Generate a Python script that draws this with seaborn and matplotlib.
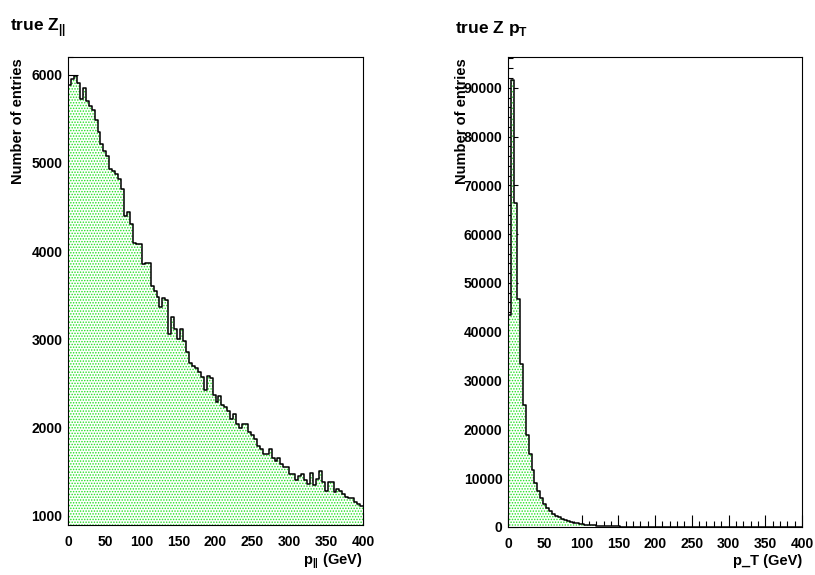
import numpy as np
import pandas as pd
import matplotlib
matplotlib.use("Agg")
import matplotlib.pyplot as plt
from matplotlib.ticker import MultipleLocator
import seaborn as sns

# ---------------- data ----------------
bin_width = 4
x_min, x_max = 0, 400

pl_counts = [5880, 5950, 5990, 5900, 5725, 5850, 5700, 5650, 5600, 5490,
             5350, 5215, 5140, 5080, 4930, 4910, 4870, 4820, 4705, 4400,
             4440, 4310, 4090, 4085, 4085, 3855, 3860, 3860, 3600, 3550,
             3475, 3370, 3470, 3445, 3060, 3255, 3115, 3005, 3115, 2985,
             2860, 2730, 2700, 2680, 2625, 2570, 2420, 2580, 2560, 2370,
             2285, 2355, 2260, 2230, 2190, 2100, 2155, 2040, 2000, 2040,
             2040, 1945, 1910, 1870, 1795, 1755, 1700, 1700, 1755, 1660,
             1625, 1655, 1585, 1550, 1550, 1475, 1470, 1400, 1455, 1475,
             1400, 1360, 1490, 1350, 1415, 1510, 1380, 1285, 1380, 1380,
             1265, 1305, 1285, 1245, 1210, 1205, 1200, 1160, 1135, 1110]

pt_counts = [43500, 91600, 66400, 46700, 33400, 24900, 18800, 14900, 11600, 9100,
             7400, 5900, 4800, 3900, 3250, 2750, 2350, 2000, 1700, 1450,
             1230, 1050, 900, 770, 660, 570, 490, 420, 365, 315,
             275, 240, 210, 184, 160, 140, 123, 108, 95, 84,
             74, 65, 57, 50, 44, 39, 35, 31, 27, 24,
             21, 19, 17, 15, 13, 12, 11, 10, 9, 8,
             7, 6, 6, 5, 5, 4, 4, 3, 3, 3,
             3, 2, 2, 2, 2, 2, 1, 1, 1, 1,
             1, 1, 1, 1, 1, 1, 0, 0, 0, 0,
             1, 0, 0, 0, 0, 0, 0, 0, 0, 0]

titles = ["true Z$_{||}$", r"true Z p$_\mathbf{T}$"]
xlabels = ["p$_{||}$ (GeV)", "p_T (GeV)"]
ylabel = "Number of entries"

centers = np.arange(x_min, x_max, bin_width) + bin_width / 2

# ---------------- style ----------------
sns.set_theme(style="ticks")
plt.rcParams["font.family"] = ["Liberation Sans", "DejaVu Sans"]
plt.rcParams["font.weight"] = "bold"
plt.rcParams["text.color"] = "black"
plt.rcParams["axes.labelcolor"] = "black"
plt.rcParams["xtick.color"] = "black"
plt.rcParams["ytick.color"] = "black"
plt.rcParams["mathtext.fontset"] = "custom"
plt.rcParams["mathtext.rm"] = "Liberation Sans"
plt.rcParams["mathtext.bf"] = "Liberation Sans:bold"
plt.rcParams["hatch.linewidth"] = 0.7

W, H = 815, 575
fig = plt.figure(figsize=(W / 100, H / 100), dpi=100)
fig.patch.set_facecolor("white")

ax1 = fig.add_axes([68 / W, 1 - 525 / H, 295 / W, 468 / H])
ax2 = fig.add_axes([508 / W, 1 - 527 / H, 294 / W, 470 / H])

green = "#22e022"


def draw(ax, counts):
    df = pd.DataFrame({"x": centers, "w": counts})
    n0 = len(ax.collections)
    sns.histplot(data=df, x="x", weights="w", binwidth=bin_width,
                 binrange=(x_min, x_max), element="step",
                 fill=True, ax=ax, alpha=1, linewidth=0)
    for coll in ax.collections[n0:]:
        coll.set_facecolor("white")
        coll.set_edgecolor(green)
        coll.set_hatch("......")
        coll.set_linewidth(0)
    sns.histplot(data=df, x="x", weights="w", binwidth=bin_width,
                 binrange=(x_min, x_max), element="step",
                 fill=False, ax=ax, color="black", linewidth=1.1)


draw(ax1, pl_counts)
draw(ax2, pt_counts)

ax1.set_ylim(895, 6200)
ax2.set_ylim(0, 96300)

for ax, ymaj, ymin in [(ax1, 1000, 200), (ax2, 10000, 2000)]:
    ax.set_facecolor("white")
    ax.set_xlim(x_min, x_max)
    ax.xaxis.set_major_locator(MultipleLocator(50))
    ax.xaxis.set_minor_locator(MultipleLocator(10))
    ax.yaxis.set_major_locator(MultipleLocator(ymaj))
    ax.yaxis.set_minor_locator(MultipleLocator(ymin))
    ax.tick_params(axis="both", which="both", direction="in", top=False,
                   right=False, colors="black", width=0.8, labelsize=10)
    ax.tick_params(axis="x", which="major", length=9, pad=7)
    ax.tick_params(axis="x", which="minor", length=4.5)
    ax.tick_params(axis="y", which="major", length=7, pad=4)
    ax.tick_params(axis="y", which="minor", length=3.5)
    for lab in ax.get_xticklabels() + ax.get_yticklabels():
        lab.set_fontweight("bold")
        lab.set_color("black")
    for sp in ax.spines.values():
        sp.set_visible(True)
        sp.set_color("black")
        sp.set_linewidth(0.8)
    ax.set_xlabel("")
    ax.set_ylabel("")

# titles
fig.text(10 / W, 1 - 28 / H, titles[0], fontsize=12.5, fontweight="bold",
         va="center", ha="left", color="black")
fig.text(455 / W, 1 - 28 / H, titles[1], fontsize=12.5, fontweight="bold",
         va="center", ha="left", color="black")

# axis titles
fig.text(18 / W, 1 - 58 / H, ylabel, rotation=90, fontsize=10.5,
         fontweight="bold", ha="center", va="top", color="black")
fig.text(462 / W, 1 - 58 / H, ylabel, rotation=90, fontsize=10.5,
         fontweight="bold", ha="center", va="top", color="black")
fig.text(363 / W, 1 - 561 / H, xlabels[0], fontsize=10.5, fontweight="bold",
         ha="right", va="center", color="black")
fig.text(802 / W, 1 - 561 / H, xlabels[1], fontsize=10.5, fontweight="bold",
         ha="right", va="center", color="black")

fig.savefig("out.png", dpi=100, facecolor="white")
